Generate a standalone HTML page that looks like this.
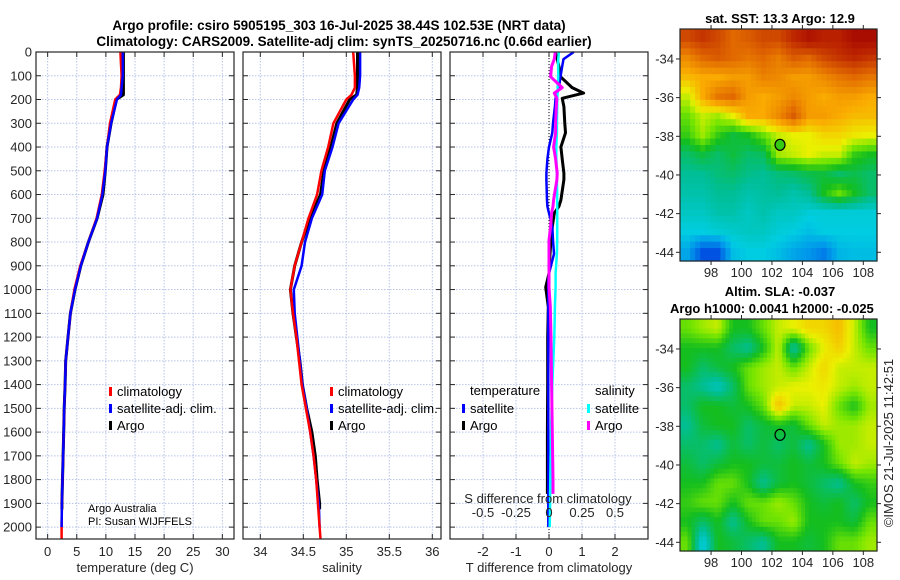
<!DOCTYPE html>
<html><head><meta charset="utf-8">
<style>
html,body{margin:0;padding:0;background:#fff;}
svg{display:block;font-family:"Liberation Sans","DejaVu Sans",sans-serif;}
</style></head>
<body>
<svg id="fig" width="900" height="580" viewBox="0 0 900 580" xmlns="http://www.w3.org/2000/svg">
<text x="339" y="30" text-anchor="middle" font-weight="bold" font-size="13.5" fill="#000">Argo profile: csiro 5905195_303 16-Jul-2025 38.44S 102.53E (NRT data)</text>
<text x="344" y="46" text-anchor="middle" font-weight="bold" font-size="13.5" fill="#000">Climatology: CARS2009. Satellite-adj clim: synTS_20250716.nc (0.66d earlier)</text>
<text x="780" y="23" text-anchor="middle" font-weight="bold" font-size="13" fill="#000">sat. SST: 13.3 Argo: 12.9</text>
<text x="780" y="296" text-anchor="middle" font-weight="bold" font-size="13" fill="#000">Altim. SLA: -0.037</text>
<text x="670" y="313" font-weight="bold" font-size="13" fill="#000">Argo h1000: 0.0041 h2000: -0.025</text>
<text transform="translate(893,443) rotate(-90)" text-anchor="middle" font-size="13" fill="#262626">©IMOS 21-Jul-2025 11:42:51</text>
<g id="plots"></g>
</svg>
<script>
// ---------- data ----------
const depths = [0,100,150,180,200,300,400,500,600,700,800,900,1000,1100,1200,1300,1400,1500,1600,1700,1800,1900,2000,2050];
const tempClim = [12.5,12.7,12.6,12.4,11.6,10.7,10.2,9.8,9.3,8.4,7.0,5.6,4.6,3.9,3.5,3.1,3.0,2.85,2.75,2.65,2.55,2.45,2.4,2.4];
const tempSat  = [12.9,12.9,12.7,12.6,11.9,10.9,10.2,9.9,9.4,8.5,7.0,5.7,4.7,3.9,3.5,3.1,3.0,2.85,2.75,2.65,2.55,2.45,2.4,null];
const argoDepths = [0,100,150,180,200,300,400,500,600,700,800,900,1000,1100,1200,1300,1400,1500,1600,1700,1800,1900,1925];
const tempArgo = [13.0,13.0,13.0,13.0,11.8,10.9,10.2,9.9,9.5,8.5,7.0,5.7,4.7,3.9,3.5,3.1,3.0,2.85,2.75,2.65,2.55,2.45,2.45];
const salClim = [35.08,35.10,35.10,35.06,35.00,34.85,34.79,34.71,34.66,34.56,34.48,34.40,34.35,34.38,34.42,34.45,34.48,34.53,34.58,34.62,34.65,34.67,34.69,34.70];
const salSat  = [35.16,35.16,35.15,35.13,35.08,34.91,34.84,34.75,34.72,34.60,34.52,34.48,34.39,34.40,34.43,34.46,34.49,34.54,34.58,34.62,34.65,34.68,34.69,null];
const salArgo = [35.13,35.13,35.13,35.12,35.04,34.89,34.82,34.74,34.70,34.58,34.48,34.40,34.35,34.38,34.42,34.46,34.49,34.54,34.60,34.64,34.66,34.69,34.69];
const diffDepths = [0,30,60,104,150,173,195,230,300,340,400,450,510,537,623,650,678,735,792,850,932,960,990,1073,1200,1400,1600,1800,1860,1900,2000];
const tDiffSat  = [0.75,0.44,0.4,0.35,0.3,0.25,0.2,0.18,0.12,0.1,0.0,-0.05,-0.08,-0.08,-0.06,-0.05,0.0,0.1,0.12,0.15,0.0,-0.02,-0.02,-0.02,-0.02,-0.02,-0.02,-0.02,-0.02,-0.02,-0.02];
const tDiffArgo = [0.19,0.25,0.3,0.35,0.7,1.05,0.4,0.45,0.48,0.5,0.36,0.4,0.45,0.45,0.36,0.3,0.16,0.1,0.06,0.03,0.0,-0.05,-0.1,-0.02,-0.04,-0.04,-0.05,-0.05,-0.05,null,null];
const sDiffSat  = [0.075,0.07,0.07,0.07,0.065,0.065,0.062,0.062,0.06,0.06,0.055,0.055,0.06,0.06,0.062,0.062,0.062,0.062,0.062,0.06,0.05,0.05,0.05,0.045,0.04,0.025,0.015,0.01,0.008,0.008,0.005];
const sDiffArgo = [0.048,0.04,0.02,0.012,0.1,0.04,0.06,0.055,0.05,0.05,0.035,0.05,0.062,0.06,0.035,0.03,0.02,0.012,0.0,0.0,0.0,0.0,0.0,0.01,0.015,0.02,0.025,0.03,0.03,null,null];
const depthTicks = [0,100,200,300,400,500,600,700,800,900,1000,1100,1200,1300,1400,1500,1600,1700,1800,1900,2000];
const tempTicks = [0,5,10,15,20,25,30];
const salTicks = [34,34.5,35,35.5,36];
const salTickLabels = ["34","34.5","35","35.5","36"];
const tDiffTicks = [-2,-1,0,1,2];
const sDiffTicks = [-0.5,-0.25,0,0.25,0.5];
const sDiffTickLabels = ["-0.5","-0.25","0","0.25","0.5"];
const lonTicks = [98,100,102,104,106,108];
const latTicks = [-34,-36,-38,-40,-42,-44];
const argoLon = 102.53, argoLat = -38.44;
const sstGrid = [
[0.85,0.88,0.85,0.8,0.82,0.85,0.85,0.9,0.95,0.92,0.92,0.97,0.97],
[0.75,0.8,0.82,0.8,0.78,0.8,0.77,0.82,0.8,0.85,0.88,0.9,0.88],
[0.68,0.7,0.7,0.72,0.72,0.76,0.75,0.72,0.72,0.75,0.78,0.8,0.78],
[0.6,0.7,0.78,0.8,0.72,0.7,0.72,0.75,0.72,0.7,0.72,0.72,0.7],
[0.55,0.6,0.58,0.62,0.7,0.7,0.75,0.82,0.72,0.72,0.7,0.68,0.68],
[0.52,0.58,0.52,0.48,0.5,0.55,0.6,0.62,0.62,0.65,0.65,0.63,0.62],
[0.45,0.48,0.45,0.48,0.45,0.46,0.58,0.6,0.62,0.6,0.6,0.52,0.5],
[0.42,0.42,0.44,0.45,0.43,0.42,0.44,0.45,0.47,0.48,0.45,0.47,0.45],
[0.4,0.4,0.42,0.42,0.4,0.41,0.42,0.4,0.42,0.5,0.55,0.5,0.45],
[0.38,0.38,0.4,0.4,0.38,0.4,0.38,0.38,0.36,0.36,0.36,0.36,0.36],
[0.35,0.35,0.36,0.37,0.38,0.38,0.36,0.35,0.33,0.35,0.35,0.35,0.35],
[0.3,0.2,0.2,0.33,0.35,0.35,0.33,0.3,0.28,0.25,0.32,0.33,0.33]];
const slaGrid = [
[0.55,0.58,0.6,0.5,0.5,0.55,0.6,0.62,0.65,0.65,0.68,0.6,0.5],
[0.5,0.5,0.5,0.45,0.42,0.5,0.6,0.4,0.55,0.62,0.66,0.6,0.55],
[0.5,0.45,0.48,0.5,0.55,0.58,0.6,0.55,0.6,0.65,0.6,0.6,0.6],
[0.45,0.42,0.38,0.45,0.55,0.58,0.6,0.62,0.62,0.63,0.6,0.58,0.6],
[0.45,0.5,0.5,0.48,0.5,0.55,0.68,0.6,0.6,0.62,0.55,0.5,0.58],
[0.42,0.48,0.5,0.5,0.45,0.48,0.5,0.48,0.55,0.6,0.58,0.58,0.6],
[0.45,0.45,0.42,0.48,0.45,0.48,0.45,0.48,0.42,0.5,0.58,0.58,0.6],
[0.48,0.45,0.48,0.5,0.5,0.48,0.48,0.5,0.48,0.5,0.55,0.6,0.58],
[0.5,0.5,0.55,0.55,0.5,0.42,0.48,0.5,0.48,0.45,0.42,0.5,0.52],
[0.52,0.55,0.55,0.5,0.55,0.55,0.58,0.55,0.5,0.48,0.5,0.45,0.5],
[0.5,0.45,0.5,0.42,0.5,0.55,0.55,0.58,0.5,0.5,0.5,0.48,0.55],
[0.55,0.35,0.5,0.48,0.45,0.42,0.5,0.5,0.48,0.5,0.55,0.55,0.58]];

// ---------- helpers ----------
const NS = "http://www.w3.org/2000/svg";
const root = document.getElementById("plots");
function mk(tag, attrs, parent){ const e=document.createElementNS(NS,tag); for(const k in attrs) e.setAttribute(k,attrs[k]); (parent||root).appendChild(e); return e; }
function txt(s, attrs, parent){ const e=mk("text",attrs,parent); e.textContent=s; return e; }
function lin(d0,d1,p0,p1){ return v => p0 + (v-d0)*(p1-p0)/(d1-d0); }
const TOP=52, BOT=539;
const yDepth = lin(0,2050,TOP,BOT);
const TICKC="#262626";

function panel(name, x0, x1, xs, xTicks, xLabels, xTitle, showDepthLabels){
  const g = mk("g",{});
  
  
  xTicks.forEach(t=>{ const l=mk("line",{x1:xs(t),x2:xs(t),y1:TOP,y2:BOT,stroke:"#b8c4e8","stroke-width":1,"stroke-dasharray":"1.5,1.5"},g);
    
     });
  depthTicks.forEach(t=>{ const l=mk("line",{x1:x0,x2:x1,y1:yDepth(t),y2:yDepth(t),stroke:"#b8c4e8","stroke-width":1,"stroke-dasharray":"1.5,1.5"},g);
    
    
    mk("line",{x1:x0,x2:x0+5,y1:yDepth(t),y2:yDepth(t),stroke:TICKC},g);
    mk("line",{x1:x1-5,x2:x1,y1:yDepth(t),y2:yDepth(t),stroke:TICKC},g);
    if(showDepthLabels){ const tl=txt(String(t),{x:x0-4,y:yDepth(t)+4.5,"text-anchor":"end","font-size":13,fill:TICKC},g);
      
       }
  });
  xTicks.forEach((t,i)=>{ mk("line",{x1:xs(t),x2:xs(t),y1:BOT,y2:BOT-5,stroke:TICKC},g);
    mk("line",{x1:xs(t),x2:xs(t),y1:TOP,y2:TOP+5,stroke:TICKC},g);
    const tl=txt(xLabels[i],{x:xs(t),y:556,"text-anchor":"middle","font-size":13,fill:TICKC},g);
    
     });
  const at=txt(xTitle,{x:(x0+x1)/2,y:572,"text-anchor":"middle","font-size":13,fill:TICKC},g);
  
  
  return g;
}
function frame(g,x0,x1){ const r=mk("rect",{x:x0,y:TOP,width:x1-x0,height:BOT-TOP,fill:"none",stroke:"#262626","stroke-width":1.2},g);
  
   }
function series(g, name, ds, vs, xs, color, w){
  let d=""; let pen=false;
  ds.forEach((dep,i)=>{ const v=vs[i]; if(v===null||v===undefined){pen=false;return;}
    d += (pen?"L":"M")+xs(v).toFixed(1)+","+yDepth(dep).toFixed(1); pen=true; });
  const p=mk("path",{d:d,fill:"none",stroke:color,"stroke-width":w,"stroke-linejoin":"round"},g);
  
  
}
function legendItem(g,name,x,y,color,label){
  const m=mk("rect",{x:x,y:y-8,width:3,height:9,fill:color},g);
  
  
  const t=txt(label,{x:x+8,y:y+1,"font-size":13,fill:"#000"},g);
  
  
}

// ---------- panel 1: temperature ----------
const xT = lin(-2,32,36,234);
const g1 = panel("temperature-panel",36,234,xT,tempTicks,tempTicks.map(String),"temperature (deg C)",true);
series(g1,"temp-argo-line",argoDepths,tempArgo,xT,"#000",3);
series(g1,"temp-climatology-line",depths,tempClim,xT,"#f00",2.5);
series(g1,"temp-satellite-line",depths,tempSat,xT,"#00f",2.5);
legendItem(g1,"legend-climatology",109,395,"#f00","climatology");
legendItem(g1,"legend-satellite-adj",109,412,"#00f","satellite-adj. clim.");
legendItem(g1,"legend-argo",109,429,"#000","Argo");
const c1=txt("Argo Australia",{x:88,y:512,"font-size":11,fill:"#000"},g1);


const c2=txt("PI: Susan WIJFFELS",{x:88,y:525,"font-size":11,fill:"#000"},g1);


frame(g1,36,234);

// ---------- panel 2: salinity ----------
const xS = lin(34,36,260.3,432.3);
const g2 = panel("salinity-panel",243,441,xS,salTicks,salTickLabels,"salinity",false);
series(g2,"sal-argo-line",argoDepths,salArgo,xS,"#000",3);
series(g2,"sal-satellite-line",depths,salSat,xS,"#00f",2.5);
series(g2,"sal-climatology-line",depths,salClim,xS,"#f00",2.5);
legendItem(g2,"legend-climatology-2",330,395,"#f00","climatology");
legendItem(g2,"legend-satellite-adj-2",330,412,"#00f","satellite-adj. clim.");
legendItem(g2,"legend-argo-2",330,429,"#000","Argo");
frame(g2,243,441);

// ---------- panel 3: differences ----------
const xD = lin(-3,3,450,648);
const xSD = v => xD(v*4);
const g3 = panel("difference-panel",450,648,xD,tDiffTicks,tDiffTicks.map(String),"T difference from climatology",false);
const zl=mk("line",{x1:xD(0),x2:xD(0),y1:TOP,y2:BOT,stroke:"#000","stroke-width":1,"stroke-dasharray":"1,2"},g3);


series(g3,"tdiff-argo-line",diffDepths,tDiffArgo,xD,"#000",3);
series(g3,"tdiff-satellite-line",diffDepths,tDiffSat,xD,"#00f",2.5);
series(g3,"sdiff-satellite-line",diffDepths,sDiffSat,xSD,"#0ff",2.5);
series(g3,"sdiff-argo-line",diffDepths,sDiffArgo,xSD,"#f0f",3);
sDiffTicks.forEach((t,i)=>{ const tl=txt(sDiffTickLabels[i],{x:xSD(t),y:517,"text-anchor":"middle","font-size":13,fill:TICKC},g3);
  
   });
const sdt=txt("S difference from climatology",{x:548,y:503,"text-anchor":"middle","font-size":13,fill:TICKC},g3);


const lt1=txt("temperature",{x:470,y:395,"font-size":13,fill:"#000"},g3);


const lt2=txt("salinity",{x:595,y:395,"font-size":13,fill:"#000"},g3);


legendItem(g3,"legend-t-satellite",462,412,"#00f","satellite");
legendItem(g3,"legend-t-argo",462,429,"#000","Argo");
legendItem(g3,"legend-s-satellite",587,412,"#0ff","satellite");
legendItem(g3,"legend-s-argo",587,429,"#f0f","Argo");
frame(g3,450,648);

// ---------- maps ----------
const cmapStops = [[0,[0,0,140]],[0.15,[0,40,220]],[0.28,[0,150,235]],[0.35,[0,205,225]],[0.42,[0,190,150]],[0.5,[20,190,30]],[0.56,[120,230,0]],[0.62,[235,240,0]],[0.7,[250,170,0]],[0.8,[225,105,0]],[0.9,[190,40,0]],[1,[160,0,0]]];
function cmap(v){
  v=Math.max(0,Math.min(1,v));
  for(let i=1;i<cmapStops.length;i++){ const a=cmapStops[i-1], b=cmapStops[i];
    if(v<=b[0]){ const f=(v-a[0])/(b[0]-a[0]);
      return "rgb("+a[1].map((c,k)=>Math.round(c+(b[1][k]-c)*f)).join(",")+")"; } }
  return "rgb(160,0,0)";
}
function sample(grid,r,c){ // bilinear on cell centres
  const R=grid.length, C=grid[0].length;
  r=Math.max(0,Math.min(R-1,r)); c=Math.max(0,Math.min(C-1,c));
  const r0=Math.floor(r), c0=Math.floor(c), r1=Math.min(R-1,r0+1), c1=Math.min(C-1,c0+1);
  const fr=r-r0, fc=c-c0;
  return grid[r0][c0]*(1-fr)*(1-fc)+grid[r0][c1]*(1-fr)*fc+grid[r1][c0]*fr*(1-fc)+grid[r1][c1]*fr*fc;
}
function drawMap(name, grid, top, bottom, sub){
  const x0=680,x1=877;
  const xl = lin(95.96,108.9,x0,x1);
  const yl = lin(-32.45,-44.45,top,bottom);
  const g=mk("g",{});
  
  
  const cols=grid[0].length, rows=grid.length;
  const lonStep=(108.9-95.96)/cols/sub, latStep=12/rows/sub;
  for(let r=0;r<rows*sub;r++) for(let c=0;c<cols*sub;c++){
    const v=sample(grid,(r+0.5)/sub-0.5,(c+0.5)/sub-0.5);
    const lo=95.96+c*lonStep, la=-32.45-r*latStep;
    const cell=mk("rect",{x:xl(lo).toFixed(2),y:yl(la).toFixed(2),width:(xl(lo+lonStep)-xl(lo)+0.6).toFixed(2),height:(yl(la-latStep)-yl(la)+0.6).toFixed(2),fill:cmap(v)},g);
    
    
  }
  lonTicks.forEach(t=>{ mk("line",{x1:xl(t),x2:xl(t),y1:bottom,y2:bottom+4,stroke:TICKC},g);
    mk("line",{x1:xl(t),x2:xl(t),y1:top,y2:top-4,stroke:TICKC},g);
    const tl=txt(String(t),{x:xl(t),y:bottom+16,"text-anchor":"middle","font-size":13,fill:TICKC},g);
    
     });
  latTicks.forEach(t=>{ mk("line",{x1:x0-4,x2:x0,y1:yl(t),y2:yl(t),stroke:TICKC},g);
    mk("line",{x1:x1,x2:x1+4,y1:yl(t),y2:yl(t),stroke:TICKC},g);
    const tl=txt(String(t),{x:x0-6,y:yl(t)+4.5,"text-anchor":"end","font-size":13,fill:TICKC},g);
    
     });
  const m=mk("ellipse",{cx:xl(argoLon),cy:yl(argoLat),rx:5,ry:5.5,fill:name==="sst-map"?cmap(0.52):"none",stroke:"#000","stroke-width":1.2},g);
  
  
  const f=mk("rect",{x:x0,y:top,width:x1-x0,height:bottom-top,fill:"none",stroke:"#262626","stroke-width":1.2},g);
  
  
}
drawMap("sst-map",sstGrid,29,261,3);
drawMap("sla-map",slaGrid,319,551,4);
</script>
</body></html>
